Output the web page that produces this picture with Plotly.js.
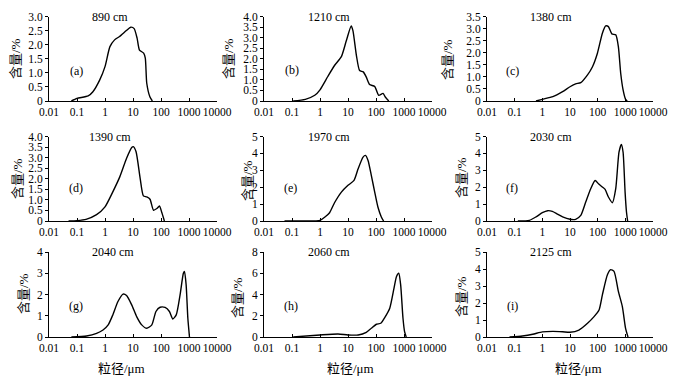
<!DOCTYPE html>
<html>
<head>
<meta charset="utf-8">
<script src="https://cdn.plot.ly/plotly-3.0.1.min.js"></script>
<style>html,body{margin:0;padding:0;background:#fff;}#chart{width:684px;height:381px;}</style>
</head>
<body>
<div id="chart"></div>
<script>
// ---- data ----
const depthLabels = ["890 cm","1210 cm","1380 cm","1390 cm","1970 cm","2030 cm","2040 cm","2060 cm","2125 cm"];
const panelLetters = ["(a)","(b)","(c)","(d)","(e)","(f)","(g)","(h)","(i)"];
const xTickVals = [0.01,0.1,1,10,100,1000,10000];
const xTickText = ["0.01","0.1","1","10","100","1000","10000"];

const sizesA = [0.063,0.1,0.25,0.37,0.65,1.0,1.5,2.2,3.3,5.8,8.3,11,14,17,24,27.5,31,40,49];
const contentA = [0,0.09,0.18,0.33,0.75,1.22,1.93,2.17,2.29,2.5,2.62,2.57,2.23,1.81,1.70,1.52,0.63,0.15,0];
const sizesB = [0.11,0.3,0.65,1,1.9,3.3,5.8,8.7,13,15,20,26,35,45,59,90,125,178,215,285];
const contentB = [0,0.08,0.27,0.53,1.16,1.68,2.1,2.85,3.55,3.33,2.15,1.44,1.38,1.13,0.78,0.69,0.27,0.36,0.19,0];
const sizesC = [0.59,1,2.4,5.4,10,16,24.5,43,65,98,148,195,245,325,450,560,680,830,1020,1170];
const contentC = [0,0.07,0.18,0.39,0.59,0.71,0.76,1.08,1.42,1.98,2.81,3.11,3.08,2.78,2.74,2.25,1.15,0.46,0.07,0];
const sizesD = [0.05,0.1,0.21,0.5,1,1.9,3.4,5.9,9,10.2,12.8,18,23.5,31,40.5,54,71,88,107,132];
const contentD = [0,0.02,0.08,0.3,0.67,1.38,2.1,2.97,3.48,3.52,3.29,2.02,1.19,1.14,1.03,0.51,0.59,0.71,0.4,0];
const sizesE = [0.054,0.3,1,1.5,2.2,3.3,5.8,10,16.4,23,34.5,42,52,68,90,117,155,187];
const contentE = [0,0,0.04,0.24,0.49,1.08,1.71,2.11,2.4,3.09,3.78,3.88,3.58,2.7,1.71,0.83,0.24,0];
const sizesF = [0.13,0.34,0.59,1,1.56,2.3,3.5,5.4,10,16,24.5,37,56,81,107,148,186,245,340,450,590,720,830,980,1100,1210];
const contentF = [0,0.04,0.24,0.49,0.61,0.57,0.41,0.24,0.1,0.1,0.33,1.12,1.91,2.4,2.2,2.01,1.87,1.42,1.08,1.91,4.07,4.53,4.07,1.71,0.53,0];
const sizesG = [0.063,0.22,0.5,0.85,1.3,1.9,2.9,4.4,5.9,9,13.5,20.5,31,47,66,93,140,200,265,350,480,630,690,790,910,1040];
const contentG = [0,0.05,0.17,0.33,0.57,1.04,1.67,2.02,1.95,1.51,0.96,0.57,0.41,0.57,1.2,1.4,1.39,1.2,0.85,1.04,1.98,3.0,3.09,2.46,0.88,0];
const sizesH = [0.11,1,4.4,10,23,45,68,103,148,205,310,440,540,650,760,920,1050,1200];
const contentH = [0,0.19,0.28,0.19,0.19,0.44,0.82,1.2,1.29,1.83,2.71,4.6,5.7,6.0,4.91,1.76,0.5,0];
const sizesI = [0.065,0.19,0.45,1,2.4,5.4,10,21,43,74,112,148,225,295,390,560,780,1020,1250];
const contentI = [0,0.06,0.16,0.3,0.33,0.31,0.28,0.41,0.81,1.2,1.59,2.48,3.66,3.96,3.86,2.68,1.79,0.51,0];

const yTickValsA = [0,0.5,1,1.5,2,2.5,3];      const yTickTextA = ["0","0.5","1.0","1.5","2.0","2.5","3.0"];
const yTickValsB = [0,0.5,1,1.5,2,2.5,3,3.5,4]; const yTickTextB = ["0","0.5","1.0","1.5","2.0","2.5","3.0","3.5","4.0"];
const yTickValsC = [0,0.5,1,1.5,2,2.5,3,3.5];   const yTickTextC = ["0","0.5","1.0","1.5","2.0","2.5","3.0","3.5"];
const yTickValsD = yTickValsB;                  const yTickTextD = yTickTextB;
const yTickValsE = [0,1,2,3,4,5];               const yTickTextE = ["0","1","2","3","4","5"];
const yTickValsF = yTickValsE;                  const yTickTextF = yTickTextE;
const yTickValsG = [0,1,2,3,4];                 const yTickTextG = ["0","1","2","3","4"];
const yTickValsH = [0,2,4,6,8];                 const yTickTextH = ["0","2","4","6","8"];
const yTickValsI = yTickValsE;                  const yTickTextI = yTickTextE;

const yTitle = "含量/%";
const xTitle = "粒径/μm";

// ---- layout helpers ----
const W = 684, H = 381;
const px = v => v / W;
const py = v => 1 - v / H;

const allSizes = [sizesA,sizesB,sizesC,sizesD,sizesE,sizesF,sizesG,sizesH,sizesI];
const allContent = [contentA,contentB,contentC,contentD,contentE,contentF,contentG,contentH,contentI];
const allYVals = [yTickValsA,yTickValsB,yTickValsC,yTickValsD,yTickValsE,yTickValsF,yTickValsG,yTickValsH,yTickValsI];
const allYText = [yTickTextA,yTickTextB,yTickTextC,yTickTextD,yTickTextE,yTickTextF,yTickTextG,yTickTextH,yTickTextI];

const colPx = [[49,217],[264,432],[487,653]];
const rowPx = [[16.5,101],[136.5,221],[252,337]];
const depthPos = [[110,17],[329,17],[551,17],[110,137],[329,137],[551,137],[113,252],[329,252],[551,252]];
const letterPos = [[76,71],[292,70],[512,71],[76,188],[290,188],[512,188],[76,306],[291,306],[512,306]];
const yTitlePos = [[16,59],[229,59],[448,60],[17,179],[247,181],[461,177],[23,294],[237,298],[461,296]];
const xTitlePos = [[121,368],[350,368],[578,368]];

const serif = "'Liberation Serif', 'DejaVu Serif', serif";
const cjk = "'Liberation Serif', 'Noto Sans CJK SC', serif";
const traces = [];
const layout = {
  width: W, height: H,
  margin: {l:0,r:0,t:0,b:0},
  paper_bgcolor: "#fff", plot_bgcolor: "#fff",
  showlegend: false,
  font: {family: serif, size: 11, color: "#000"},
  annotations: []
};

for (let i = 0; i < 9; i++) {
  const r = Math.floor(i/3), c = i % 3;
  const n = i === 0 ? "" : String(i+1);
  traces.push({
    x: allSizes[i], y: allContent[i],
    xaxis: "x"+n, yaxis: "y"+n,
    type: "scatter", mode: "lines",
    line: {color: "#000", width: 1.4, shape: "spline", smoothing: 0.6},
    cliponaxis: true, hoverinfo: "skip"
  });
  const yv = allYVals[i];
  layout["xaxis"+n] = {
    domain: [px(colPx[c][0]), px(colPx[c][1])],
    anchor: "y"+n, type: "log", range: [-2, 4],
    tickvals: xTickVals, ticktext: xTickText, tickangle: 0,
    ticks: "inside", ticklen: 3, tickwidth: 1, tickcolor: "#000",
    showline: true, linecolor: "#000", linewidth: 1,
    showgrid: false, zeroline: false,
    tickfont: {family: serif, size: 11.5, color: "#000"}
  };
  layout["yaxis"+n] = {
    domain: [py(rowPx[r][1]), py(rowPx[r][0])],
    anchor: "x"+n, range: [0, yv[yv.length-1]],
    tickvals: yv, ticktext: allYText[i], tickangle: 0,
    ticks: "outside", ticklen: 3, tickwidth: 1, tickcolor: "#000",
    showline: true, linecolor: "#000", linewidth: 1,
    showgrid: false, zeroline: false,
    tickfont: {family: serif, size: 11.5, color: "#000"}
  };
  layout.annotations.push({
    xref: "paper", yref: "paper", x: px(depthPos[i][0]), y: py(depthPos[i][1]),
    text: depthLabels[i], showarrow: false, xanchor: "center", yanchor: "middle",
    font: {family: serif, size: 12, color: "#000"}
  });
  layout.annotations.push({
    xref: "paper", yref: "paper", x: px(letterPos[i][0]), y: py(letterPos[i][1]),
    text: panelLetters[i], showarrow: false, xanchor: "center", yanchor: "middle",
    font: {family: serif, size: 12, color: "#000"}
  });
  layout.annotations.push({
    xref: "paper", yref: "paper", x: px(yTitlePos[i][0]), y: py(yTitlePos[i][1]),
    text: yTitle, showarrow: false, textangle: -90, xanchor: "center", yanchor: "middle",
    font: {family: cjk, size: 13, color: "#000"}
  });
}
for (let c = 0; c < 3; c++) {
  layout.annotations.push({
    xref: "paper", yref: "paper", x: px(xTitlePos[c][0]), y: py(xTitlePos[c][1]),
    text: xTitle, showarrow: false, xanchor: "center", yanchor: "middle",
    font: {family: cjk, size: 13, color: "#000"}
  });
}

Plotly.newPlot("chart", traces, layout, {staticPlot: true, displayModeBar: false});
</script>
</body>
</html>
